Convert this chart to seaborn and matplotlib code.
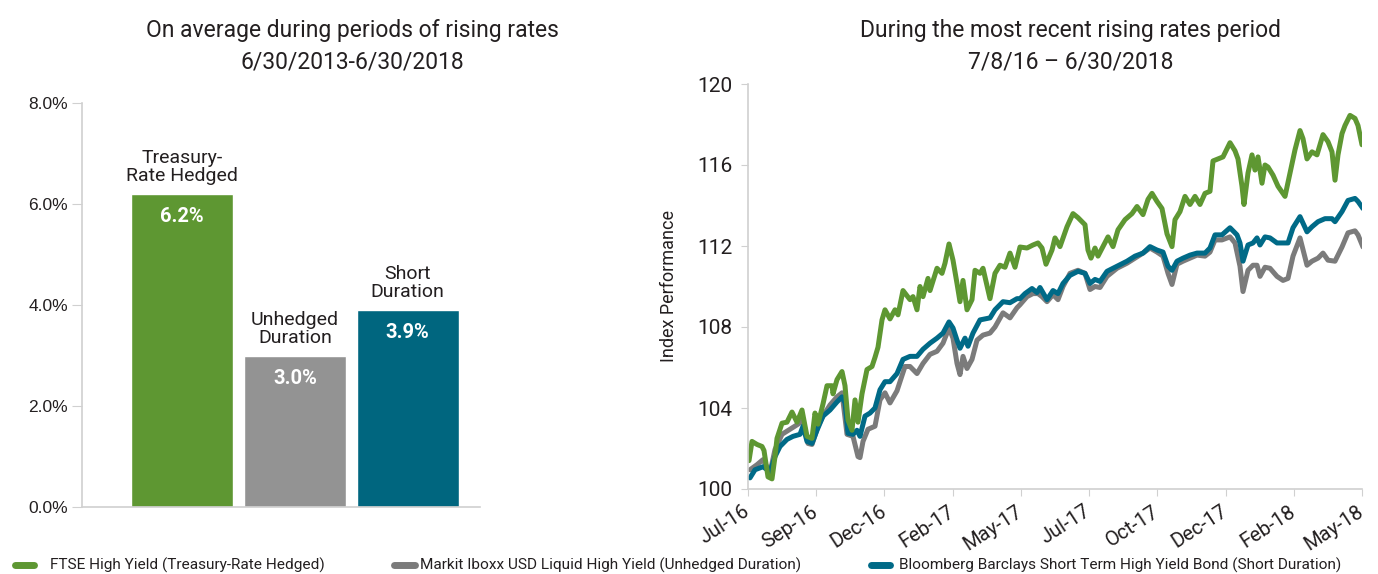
# Rising rates: bar chart of average returns + index performance lines
import matplotlib
matplotlib.use("Agg")
import matplotlib.pyplot as plt
from matplotlib.lines import Line2D
import seaborn as sns
import pandas as pd

# ---- data: left panel (average return during rising rate periods)
bar_names = ["Treasury-\nRate Hedged", "Unhedged\nDuration", "Short\nDuration"]
bar_values = [6.2, 3.0, 3.9]
bar_colors = ["#5e9732", "#939393", "#00667f"]

# ---- data: right panel (index performance, day offset from 7/8/16)
month_labels = ["Jul-16", "Sep-16", "Dec-16", "Feb-17", "May-17",
                "Jul-17", "Oct-17", "Dec-17", "Feb-18", "May-18"]

ftse_day = [1, 4, 9, 14, 16, 20, 24, 27, 29, 34, 39, 44, 49, 54, 59, 64, 67, 70, 75, 79,
            84, 85, 89, 94, 97, 100, 104, 107, 110, 114, 119, 124, 127, 130, 134, 137, 142, 147, 150, 155,
            162, 165, 169, 172, 175, 180, 182, 189, 194, 197, 201, 205, 209, 212, 215, 219, 224, 227, 232, 235,
            242, 247, 252, 257, 262, 267, 272,
            279, 285, 290, 294, 298, 304, 307, 312, 319, 325, 330, 337, 340, 343, 347, 350, 355, 360, 365, 370,
            377, 384, 389, 395, 400, 404, 409, 414, 419, 424, 427, 432, 437, 442, 447, 452, 457, 462, 465, 470,
            475, 482, 487, 490, 494, 496, 500, 504, 507, 510, 514, 517, 520, 525, 530, 537, 542, 547, 552, 555,
            559, 564, 569, 575, 580, 584, 587, 590, 594, 597, 602, 607, 610, 614]
ftse_val = [101.4, 102.35, 102.2, 102.1, 101.9, 100.6, 100.5, 101.6, 102.5, 103.25,
            103.3, 103.8, 103.3, 103.9, 102.6, 102.5, 103.75, 103.2, 104.2, 105.1,
            105.1, 104.7, 105.4, 105.8, 105.1, 103.4, 102.9, 104.4, 103.3, 104.7,
            105.9, 106.05, 106.5, 107.0, 108.35, 108.85, 108.4, 108.85, 108.6, 109.8,
            109.35, 109.5, 108.85, 110.0, 109.5, 110.4, 109.8, 110.9, 110.65, 111.15,
            112.1, 111.3, 110.15, 109.25, 110.3, 108.85, 109.35, 110.8, 110.65, 110.9,
            109.4, 110.65, 111.05, 110.95, 111.65, 110.95, 111.95,
            111.9, 112.05, 112.15, 111.9, 111.1, 111.8, 112.4, 111.97, 112.95, 113.6,
            113.4, 113.05, 111.8, 111.4, 111.9, 111.5, 111.97, 112.45, 111.97, 112.8,
            113.3, 113.6, 113.95, 113.55, 114.3, 114.6, 114.2, 113.85, 112.6, 111.97,
            113.3, 113.7, 114.45, 114.05, 114.45, 114.05, 114.6, 114.7, 116.2, 116.3,
            116.4, 117.1, 116.7, 116.3, 114.95, 114.05, 115.6, 116.5, 115.75, 116.4,
            115.1, 116.0, 115.9, 115.5, 114.95, 114.45, 115.6, 116.75, 117.7, 117.3,
            116.3, 116.65, 116.5, 117.5, 117.15, 116.65, 115.25, 116.5, 117.55, 117.95,
            118.45, 118.3, 117.95, 117.0]

markit_day = [2, 9, 15, 22, 27, 34, 42, 50, 55, 60, 64, 70, 75, 82, 89, 94, 99, 105, 110, 112,
              115, 120, 127, 132, 137, 142, 149, 157, 162, 169, 175, 182, 189, 195, 201, 205, 209, 212, 215, 219,
              224, 229, 235, 242, 247, 255, 262, 269,
              272, 279, 285, 290, 294, 299, 305, 310, 315, 322, 330, 337, 342, 347, 352, 359, 369, 379, 387, 395,
              402, 409, 415, 420, 424, 429, 435, 442, 449, 457, 462, 467, 474, 482, 487, 492, 495, 500, 505, 509,
              512, 517, 522, 529, 535, 540, 545, 552, 559, 564, 570, 575, 580, 587, 594, 600, 607, 610, 615]
markit_val = [100.95, 101.2, 101.45, 100.8, 101.95, 102.7, 102.95, 103.2, 103.4, 102.25,
              102.2, 103.1, 103.6, 104.15, 104.55, 104.75, 102.7, 102.6, 101.6, 101.55,
              102.35, 102.95, 103.1, 104.4, 104.75, 104.25, 104.85, 106.05, 106.05, 105.7,
              106.2, 106.65, 106.8, 107.2, 107.95, 107.45, 106.2, 105.65, 106.55, 105.95,
              106.4, 107.35, 107.6, 107.7, 108.0, 108.7, 108.45, 108.95,
              109.1, 109.5, 109.65, 109.65, 109.5, 109.25, 109.6, 109.35, 110.0, 110.65,
              110.8, 110.65, 109.85, 110.0, 109.95, 110.5, 110.9, 111.15, 111.4, 111.65,
              111.9, 111.7, 111.5, 110.65, 110.1, 111.1, 111.25, 111.4, 111.55, 111.5,
              111.7, 112.3, 112.3, 112.45, 112.15, 111.0, 109.75, 110.8, 111.05, 111.05,
              110.5, 110.95, 110.9, 110.5, 110.3, 110.4, 111.5, 112.4, 111.05, 111.25,
              111.4, 111.65, 111.3, 111.25, 111.95, 112.65, 112.75, 112.55, 111.95]

bbg_day = [2, 7, 15, 22, 27, 32, 39, 45, 52, 55, 59, 64, 69, 75, 82, 89, 94, 97, 100, 105,
           109, 112, 117, 122, 127, 132, 137, 142, 149, 155, 162, 169, 175, 182, 189, 195, 201, 205, 209, 212,
           217, 220, 225, 232, 242, 247, 255, 262, 269,
           272, 277, 284, 289, 292, 299, 305, 310, 315, 322, 330, 337, 342, 347, 352, 359, 369, 379, 387, 395,
           402, 409, 415, 420, 424, 429, 435, 442, 449, 457, 462, 467, 474, 482, 489, 492, 495, 500, 505, 509,
           512, 517, 522, 529, 535, 540, 545, 552, 559, 564, 570, 577, 584, 587, 594, 600, 607, 610, 615]
bbg_val = [100.55, 100.95, 101.1, 100.85, 101.6, 102.1, 102.45, 102.6, 102.7, 103.1,
           102.35, 102.25, 102.9, 103.6, 103.9, 104.3, 104.55, 104.25, 102.75, 102.7,
           102.9, 102.6, 103.6, 103.75, 104.0, 104.9, 105.3, 105.3, 105.7, 106.4,
           106.55, 106.55, 106.9, 107.2, 107.45, 107.7, 108.25, 107.95, 107.35, 106.95,
           107.45, 107.05, 107.7, 108.35, 108.45, 108.85, 109.25, 109.2, 109.4,
           109.4, 109.65, 109.9, 109.7, 109.95, 109.35, 109.8, 109.65, 110.15, 110.55,
           110.75, 110.65, 110.15, 110.35, 110.25, 110.75, 111.0, 111.25, 111.5, 111.65,
           111.97, 111.8, 111.7, 111.0, 110.8, 111.25, 111.4, 111.55, 111.65, 111.65,
           111.9, 112.55, 112.55, 112.9, 112.55, 112.15, 111.25, 112.05, 112.15, 112.4,
           112.05, 112.45, 112.4, 112.15, 112.15, 112.15, 112.9, 113.45, 112.7, 112.95,
           113.2, 113.35, 113.35, 113.2, 113.7, 114.25, 114.35, 114.2, 113.85]

series_names = ["FTSE High Yield (Treasury-Rate Hedged)",
                "Markit Iboxx USD Liquid High Yield (Unhedged Duration)",
                "Bloomberg Barclays Short Term High Yield Bond (Short Duration)"]
line_colors = ["#5e9732", "#7b7b7b", "#006a87"]

sns.set_style("white")
plt.rcParams["font.family"] = ["Roboto", "DejaVu Sans"]
grid_col = "#d0d0d0"
txt_col = "#231f20"

W, H = 1378, 574
fig = plt.figure(figsize=(W / 100, H / 100), dpi=100)

# ---------------- left: bars
ax1 = fig.add_axes([82 / W, 1 - 507 / H, 398 / W, 404 / H])
bars_df = pd.DataFrame({"name": bar_names, "value": bar_values})
sns.barplot(data=bars_df, x="name", y="value", hue="name", palette=bar_colors,
            width=0.9, saturation=1, legend=False, ax=ax1)
ax1.set_xlim(-0.885, 2.64)
ax1.set_ylim(0, 8)
ax1.set_yticks([0, 2, 4, 6, 8])
ax1.set_yticklabels([f"{v:.1f}%" for v in [0, 2, 4, 6, 8]], family="Liberation Sans",
                    fontsize=12.5, color=txt_col)
ax1.set_xticks([])
ax1.set_xlabel("")
ax1.set_ylabel("")
ax1.tick_params(axis="y", length=7, color=grid_col, pad=3, left=True)
for s in ["top", "right"]:
    ax1.spines[s].set_visible(False)
for s in ["left", "bottom"]:
    ax1.spines[s].set_color(grid_col)
    ax1.spines[s].set_linewidth(1.2)
for i, (nm, v) in enumerate(zip(bar_names, bar_values)):
    ax1.text(i, v + 0.17, nm, ha="center", va="bottom", fontsize=14, color=txt_col, linespacing=1.0)
    ax1.text(i, v - 0.45, f"{v:.1f}%", ha="center", va="center", fontsize=14.5,
             color="white", fontweight="bold")

fig.text(352 / W, 1 - 30 / H, "On average during periods of rising rates", ha="center", va="center",
         fontsize=16.5, color=txt_col)
fig.text(352 / W, 1 - 62 / H, "6/30/2013-6/30/2018", ha="center", va="center",
         fontsize=16.5, color=txt_col)

# ---------------- right: lines
ax2 = fig.add_axes([748 / W, 1 - 489 / H, 614 / W, 405 / H])
order = [(markit_day, markit_val, 1), (bbg_day, bbg_val, 2), (ftse_day, ftse_val, 0)]
for xs, ys, k in order:
    sns.lineplot(x=xs, y=ys, color=line_colors[k], lw=3.6, ax=ax2, solid_joinstyle="round")
ax2.set_xlim(0, 614)
ax2.set_ylim(100, 120)
ax2.set_yticks(range(100, 121, 4))
ax2.set_yticklabels([str(v) for v in range(100, 121, 4)], fontsize=15, color=txt_col)
tick_pos = [614 * i / 9 for i in range(10)]
ax2.set_xticks(tick_pos)
ax2.set_xticklabels(month_labels, rotation=33, fontsize=14.5, color=txt_col,
                    ha="right", va="center", rotation_mode="anchor")
ax2.tick_params(axis="x", length=5, color=grid_col, pad=10, bottom=True)
ax2.tick_params(axis="y", length=5, color=grid_col, pad=6, left=True)
ax2.set_ylabel("Index Performance", fontsize=13, color=txt_col, labelpad=14)
for s in ["top", "right"]:
    ax2.spines[s].set_visible(False)
for s in ["left", "bottom"]:
    ax2.spines[s].set_color(grid_col)
    ax2.spines[s].set_linewidth(1.2)

fig.text(1071 / W, 1 - 30 / H, "During the most recent rising rates period", ha="center", va="center",
         fontsize=16.5, color=txt_col)
fig.text(1071 / W, 1 - 62 / H, "7/8/16 \u2013 6/30/2018", ha="center", va="center",
         fontsize=16.5, color=txt_col)

# ---------------- legend (three entries along the bottom)
leg_y = 1 - 565 / H
marker_spans = [(15, 34), (394, 415), (871, 890)]
text_x = [50, 420, 899]
for (x0, x1), tx, c, nm in zip(marker_spans, text_x, line_colors, series_names):
    fig.add_artist(Line2D([x0 / W, x1 / W], [leg_y, leg_y], transform=fig.transFigure,
                          color=c, lw=5, solid_capstyle="round"))
    fig.text(tx / W, leg_y, nm, ha="left", va="center", fontsize=11.1, color=txt_col)

fig.savefig("out.png", dpi=100)
